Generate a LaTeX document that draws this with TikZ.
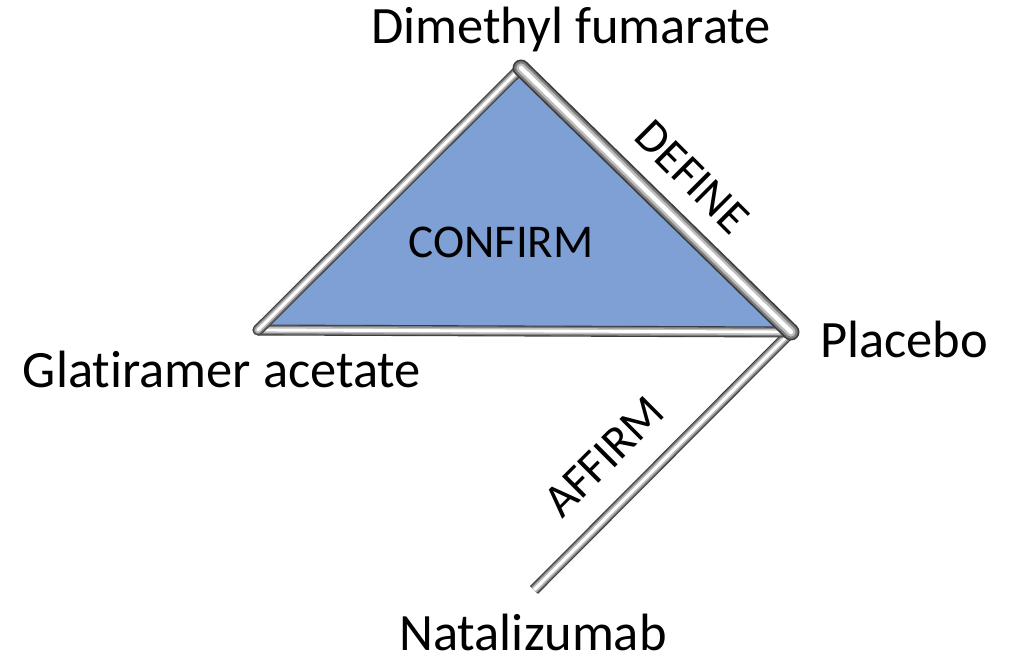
\documentclass[tikz,border=0pt]{standalone}
\usepackage{fontspec}
\setmainfont{Carlito}[Ligatures=NoCommon]
\definecolor{trifill}{RGB}{127,160,212}
\definecolor{tubeA}{RGB}{60,60,60}
\definecolor{tubeB}{RGB}{125,125,125}
\definecolor{tubeC}{RGB}{190,190,190}
\begin{document}
\begin{tikzpicture}[x=1pt,y=-1pt,
  tube/.style={draw=tubeA, line width=#1, line join=round,
    postaction={draw=tubeB, line width=0.8*#1},
    postaction={draw=tubeC, line width=0.55*#1},
    postaction={draw=white, line width=0.26*#1}},
  big/.style={font=\fontsize{52.5}{60}\selectfont, inner sep=0pt, anchor=base},
  mid/.style={font=\fontsize{47}{54}\selectfont, inner sep=0pt}]
\useasboundingbox (0,0) rectangle (1023,660);
\coordinate (dmf) at (521,68);
\coordinate (pla) at (791,332);
\coordinate (gla) at (258,330);
\coordinate (natend) at (534,590);
\fill[trifill] (dmf) -- (pla) -- (gla) -- cycle;
\draw[tube=11pt, line cap=butt] (pla) -- (natend);
\draw[tube=11pt, line cap=round] (gla) -- (pla);
\draw[tube=11pt, line cap=round] (gla) -- (dmf);
\draw[tube=17pt, line cap=round] (dmf) -- (pla);
\node[big] (tdmf) at (571,44) {Dimethyl fumarate};
\node[big] (tpla) at (904,357) {Placebo};
\node[big] (tgla) at (222,388) {Glatiramer acetate};
\node[big] (tnat) at (533,650) {Natalizumab};
\node[mid] (confirm) at (501,242) {CONFIRM};
\node[mid, rotate=-45] (define) at (692,177) {DEFINE};
\node[mid, rotate=45] (affirm) at (604,457) {AFFIRM};
\end{tikzpicture}
\end{document}
